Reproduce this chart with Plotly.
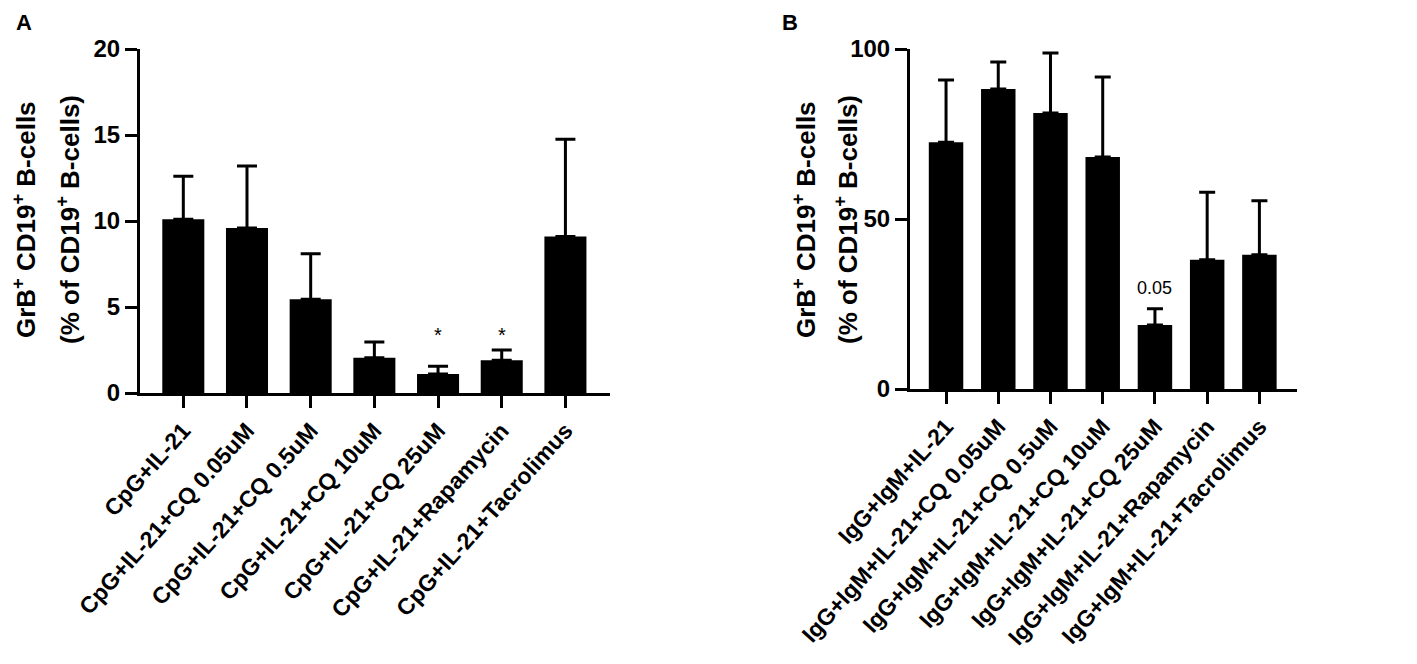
import plotly.graph_objects as go

# panel A - CpG stimulation
cats_a = ["CpG+IL-21", "CpG+IL-21+CQ 0.05uM", "CpG+IL-21+CQ 0.5uM", "CpG+IL-21+CQ 10uM",
          "CpG+IL-21+CQ 25uM", "CpG+IL-21+Rapamycin", "CpG+IL-21+Tacrolimus"]
mean_a = [10.1, 9.6, 5.45, 2.05, 1.1, 1.9, 9.1]
sd_a = [2.5, 3.6, 2.65, 0.92, 0.45, 0.6, 5.65]
ticks_a = [0, 5, 10, 15, 20]

# panel B - IgG+IgM stimulation
cats_b = ["IgG+IgM+IL-21", "IgG+IgM+IL-21+CQ 0.05uM", "IgG+IgM+IL-21+CQ 0.5uM", "IgG+IgM+IL-21+CQ 10uM",
          "IgG+IgM+IL-21+CQ 25uM", "IgG+IgM+IL-21+Rapamycin", "IgG+IgM+IL-21+Tacrolimus"]
mean_b = [72.6, 88.2, 81.2, 68.2, 18.8, 38.0, 39.5]
sd_b = [18.3, 8.0, 17.6, 23.6, 4.8, 19.9, 15.9]
ticks_b = [0, 50, 100]

# significance marks
stars_a = ["CpG+IL-21+CQ 25uM", "CpG+IL-21+Rapamycin"]
star_y = 3.4
pval_b = ("IgG+IgM+IL-21+CQ 25uM", 29.6, "0.05")

# page has an 8px body margin, so the figure is a bit smaller than the window
W, H = 1417, 664
OFF = 8
FW, FH = W - 2 * OFF, H - 2 * OFF
FONT = "Liberation Sans, Arial, sans-serif"


def px_x(v):
    return (v - OFF) / FW


def px_y(v):
    return 1 - (v - OFF) / FH


fig = go.Figure()

fig.add_trace(go.Bar(x=cats_a, y=mean_a, width=0.66, marker=dict(color="black", line=dict(width=0)),
                     error_y=dict(type="data", array=sd_a, symmetric=False, arrayminus=[0] * len(sd_a),
                                  color="black", thickness=3, width=10),
                     xaxis="x", yaxis="y", showlegend=False))
fig.add_trace(go.Bar(x=cats_b, y=mean_b, width=0.66, marker=dict(color="black", line=dict(width=0)),
                     error_y=dict(type="data", array=sd_b, symmetric=False, arrayminus=[0] * len(sd_b),
                                  color="black", thickness=3, width=8),
                     xaxis="x2", yaxis="y2", showlegend=False))

axis_common = dict(showline=True, linewidth=3, linecolor="black", ticks="outside", tickwidth=3,
                   tickcolor="black", ticklen=12, showgrid=False, zeroline=False, automargin=False)
xtick_font = dict(family=FONT, size=23, color="black", weight="bold")
ytick_font = dict(family=FONT, size=24, color="black", weight="bold")

fig.update_layout(
    width=FW, height=FH,
    margin=dict(l=0, r=0, t=0, b=0),
    paper_bgcolor="white", plot_bgcolor="white",
    xaxis=dict(domain=[px_x(140), px_x(610)], anchor="y", type="category",
               range=[-0.68, 6.7], tickangle=-48, tickfont=xtick_font, **axis_common),
    yaxis=dict(domain=[px_y(393), px_y(49)], anchor="x", range=[0, 20],
               tickvals=ticks_a, tickfont=ytick_font, **axis_common),
    xaxis2=dict(domain=[px_x(910), px_x(1297)], anchor="y2", type="category",
                range=[-0.69, 6.72], tickangle=-48, tickfont=xtick_font, **axis_common),
    yaxis2=dict(domain=[px_y(389), px_y(49)], anchor="x2", range=[0, 100],
                tickvals=ticks_b, tickfont=ytick_font, **axis_common),
)

ann = []
for c in stars_a:
    ann.append(dict(x=c, y=star_y, xref="x", yref="y", text="*", showarrow=False,
                    font=dict(family=FONT, size=20, color="black")))
ann.append(dict(x=pval_b[0], y=pval_b[1], xref="x2", yref="y2", text=pval_b[2], showarrow=False,
                font=dict(family=FONT, size=18, color="black")))

# y-axis titles (two separate lines to get the wide line spacing)
title_font = dict(family=FONT, size=26, color="black", weight="bold")
for x1, x2 in [(24, 68), (804, 846)]:
    ann.append(dict(x=px_x(x1), y=px_y(220), xref="paper", yref="paper", textangle=-90,
                    text="GrB<sup>+</sup> CD19<sup>+</sup> B-cells", showarrow=False,
                    xanchor="center", yanchor="middle", font=title_font))
    ann.append(dict(x=px_x(x2), y=px_y(220), xref="paper", yref="paper", textangle=-90,
                    text="(% of CD19<sup>+</sup> B-cells)", showarrow=False,
                    xanchor="center", yanchor="middle", font=title_font))

# panel letters
ann.append(dict(x=px_x(24), y=px_y(23), xref="paper", yref="paper", text="A", showarrow=False,
                xanchor="center", yanchor="middle",
                font=dict(family=FONT, size=22, color="black", weight="bold")))
ann.append(dict(x=px_x(790), y=px_y(23), xref="paper", yref="paper", text="B", showarrow=False,
                xanchor="center", yanchor="middle",
                font=dict(family=FONT, size=22, color="black", weight="bold")))

fig.update_layout(annotations=ann)

fig.write_html("out.html")
